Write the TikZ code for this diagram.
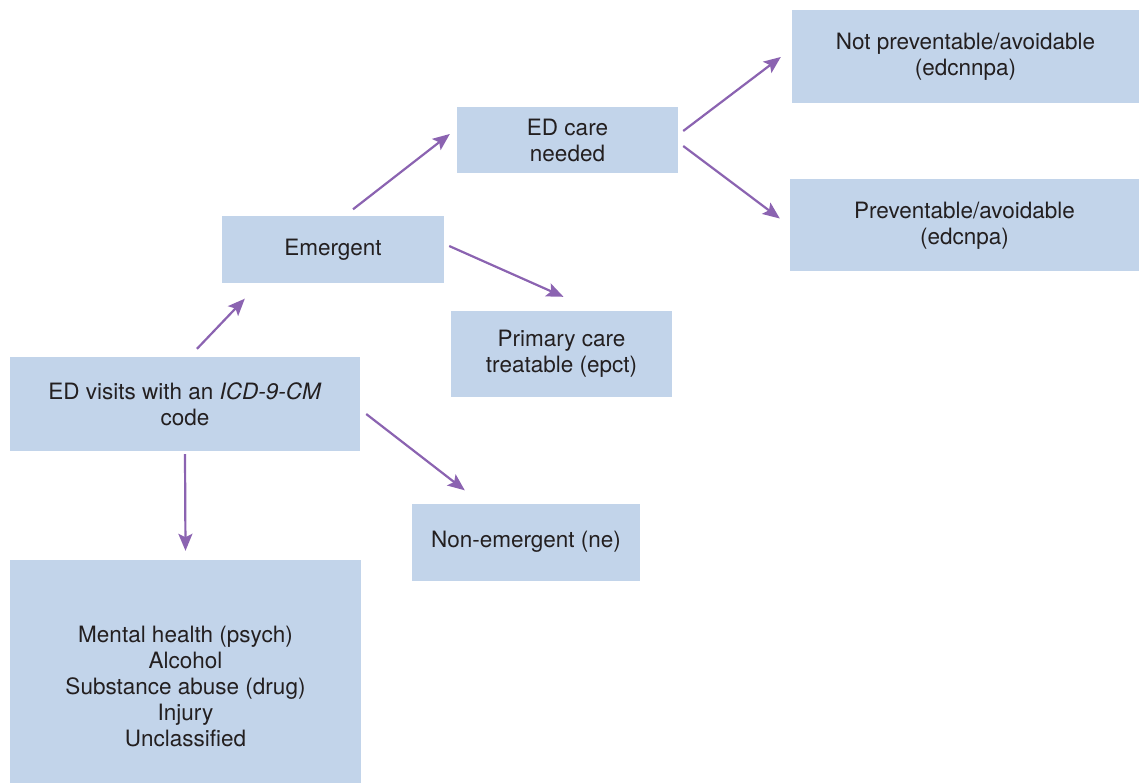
\documentclass[tikz,border=0pt]{standalone}
\usepackage{fontspec}
\setmainfont{TeX Gyre Heros}
\usetikzlibrary{arrows.meta}
\definecolor{boxfill}{HTML}{C2D4EA}
\definecolor{arrowcol}{HTML}{8B63B1}
\definecolor{txt}{HTML}{231F20}
\begin{document}
\begin{tikzpicture}[x=1pt,y=-1pt,
  box/.style={fill=boxfill,draw=none,inner sep=0pt,align=center,text=txt,
    font=\fontsize{22.5pt}{26pt}\selectfont},
  arr/.style={draw=arrowcol,line width=2.2pt,-{Stealth[length=17pt,width=14pt,inset=3.5pt]}}]
\useasboundingbox[fill=white] (0,0) rectangle (1139,783);
\node[box,minimum width=350pt,minimum height=94pt] (A) at (185,404) {ED visits with an \textit{ICD-9-CM}\\code};
\node[box,minimum width=222pt,minimum height=67pt] (B) at (333,250) {Emergent};
\node[box,minimum width=221pt,minimum height=66pt] (C) at (567.5,140) {ED care\\needed};
\node[box,minimum width=347pt,minimum height=93pt] (D) at (965.5,57) {Not preventable/avoidable\\(edcnnpa)};
\node[box,minimum width=349pt,minimum height=92pt] (E) at (964.5,225.5) {Preventable/avoidable\\(edcnpa)};
\node[box,minimum width=221pt,minimum height=86pt] (F) at (561.5,354) {Primary care\\treatable (epct)};
\node[box,minimum width=228pt,minimum height=77pt] (G) at (526,542) {Non-emergent (ne)};
\node[box,minimum width=351pt,minimum height=252pt] (H) at (185.5,686) {Mental health (psych)\\Alcohol\\Substance abuse (drug)\\Injury\\Unclassified};
\draw[arr] ([xshift=12pt,yshift=8pt]A.north) -- ([xshift=23pt,yshift=-15pt]B.south west);
\draw[arr] ([xshift=20pt,yshift=7pt]B.north) -- ([xshift=-7pt,yshift=6pt]C.west);
\draw[arr] ([xshift=5pt,yshift=9pt]C.east) -- ([xshift=-11pt,yshift=0pt]D.west);
\draw[arr] ([xshift=5pt,yshift=-6pt]C.east) -- ([xshift=-10pt,yshift=7pt]E.west);
\draw[arr] ([xshift=5pt,yshift=4pt]B.east) -- ([xshift=2pt,yshift=14pt]F.north);
\draw[arr] ([xshift=6pt,yshift=-10pt]A.east) -- ([xshift=53pt,yshift=13pt]G.north west);
\draw[arr] ([yshift=-3pt]A.south) -- ([yshift=9pt]H.north);
\end{tikzpicture}
\end{document}
